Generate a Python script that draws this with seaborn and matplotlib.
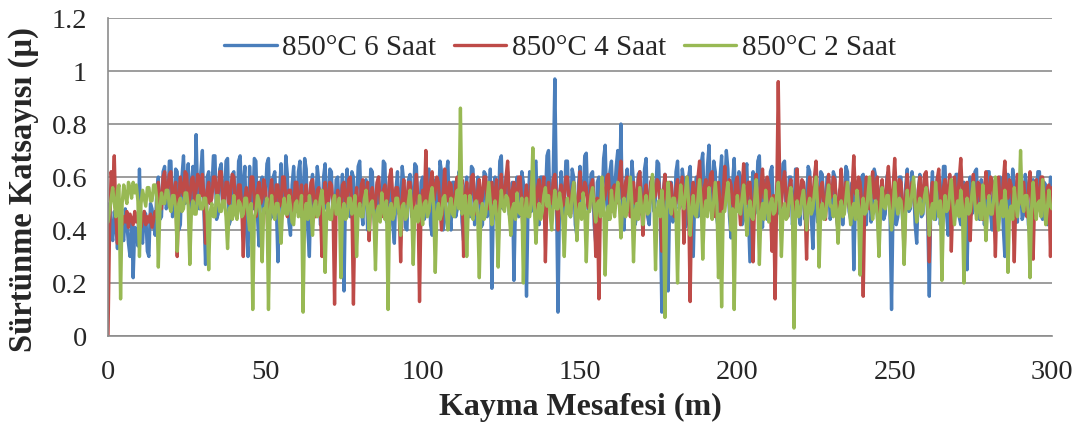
import numpy as np
import pandas as pd
import matplotlib
matplotlib.use("Agg")
import matplotlib.pyplot as plt
import seaborn as sns

# friction coefficient, two values per metre (0 .. 300 m)
mu_6h = [0.45, 0.50, 0.40, 0.36, 0.47, 0.42, 0.33, 0.45, 0.44, 0.38, 0.36, 0.48, 0.42, 0.35, 0.30, 0.44, 0.22, 0.41, 0.40, 0.34,
         0.63, 0.38, 0.35, 0.47, 0.46, 0.32, 0.30, 0.50, 0.48, 0.42, 0.38, 0.55, 0.60, 0.44, 0.45, 0.62, 0.64, 0.48, 0.50, 0.66,
         0.66, 0.45, 0.48, 0.63, 0.62, 0.40, 0.42, 0.60, 0.68, 0.50, 0.52, 0.65, 0.35, 0.58, 0.64, 0.47, 0.76, 0.52, 0.48, 0.62,
         0.70, 0.46, 0.27, 0.60, 0.62, 0.50, 0.55, 0.68, 0.68, 0.44, 0.46, 0.63, 0.65, 0.49, 0.50, 0.66, 0.67, 0.42, 0.44, 0.61,
         0.62, 0.48, 0.45, 0.66, 0.68, 0.52, 0.56, 0.64, 0.40, 0.30, 0.64, 0.50, 0.48, 0.67, 0.66, 0.45, 0.34, 0.58, 0.60, 0.46,
         0.52, 0.65, 0.67, 0.44, 0.45, 0.60, 0.62, 0.49, 0.28, 0.55, 0.65, 0.47, 0.50, 0.68, 0.61, 0.43, 0.38, 0.57, 0.64, 0.50,
         0.47, 0.62, 0.66, 0.45, 0.52, 0.67, 0.63, 0.40, 0.30, 0.56, 0.61, 0.46, 0.48, 0.64, 0.58, 0.42, 0.44, 0.60, 0.65, 0.48,
         0.50, 0.63, 0.62, 0.44, 0.42, 0.59, 0.60, 0.47, 0.49, 0.61, 0.17, 0.55, 0.63, 0.46, 0.45, 0.62, 0.60, 0.41, 0.50, 0.64,
         0.66, 0.48, 0.42, 0.58, 0.59, 0.40, 0.46, 0.63, 0.62, 0.45, 0.38, 0.57, 0.60, 0.47, 0.48, 0.66, 0.65, 0.43, 0.44, 0.60,
         0.57, 0.42, 0.35, 0.55, 0.62, 0.46, 0.47, 0.64, 0.58, 0.41, 0.40, 0.59, 0.61, 0.45, 0.50, 0.65, 0.64, 0.48, 0.43, 0.58,
         0.60, 0.44, 0.46, 0.62, 0.63, 0.42, 0.38, 0.57, 0.59, 0.46, 0.49, 0.66, 0.62, 0.40, 0.44, 0.61, 0.66, 0.47, 0.40, 0.58,
         0.58, 0.45, 0.48, 0.62, 0.61, 0.43, 0.36, 0.55, 0.60, 0.47, 0.45, 0.64, 0.63, 0.42, 0.50, 0.60, 0.57, 0.41, 0.42, 0.62,
         0.61, 0.45, 0.47, 0.63, 0.18, 0.52, 0.60, 0.44, 0.45, 0.66, 0.68, 0.48, 0.50, 0.60, 0.62, 0.46, 0.44, 0.58, 0.21, 0.50,
         0.60, 0.45, 0.46, 0.62, 0.58, 0.42, 0.15, 0.50, 0.62, 0.47, 0.48, 0.65, 0.66, 0.44, 0.42, 0.60, 0.60, 0.46, 0.52, 0.68,
         0.70, 0.48, 0.46, 0.62, 0.97, 0.55, 0.09, 0.50, 0.62, 0.45, 0.50, 0.66, 0.66, 0.47, 0.45, 0.63, 0.60, 0.42, 0.38, 0.57,
         0.64, 0.46, 0.52, 0.68, 0.69, 0.48, 0.47, 0.61, 0.62, 0.42, 0.35, 0.58, 0.60, 0.45, 0.50, 0.67, 0.72, 0.50, 0.44, 0.62,
         0.66, 0.48, 0.55, 0.64, 0.70, 0.52, 0.80, 0.45, 0.40, 0.58, 0.63, 0.47, 0.52, 0.66, 0.58, 0.42, 0.45, 0.61, 0.62, 0.46,
         0.48, 0.63, 0.67, 0.45, 0.42, 0.58, 0.60, 0.47, 0.52, 0.66, 0.65, 0.48, 0.09, 0.55, 0.61, 0.44, 0.17, 0.52, 0.58, 0.43,
         0.46, 0.62, 0.66, 0.48, 0.50, 0.63, 0.58, 0.41, 0.43, 0.60, 0.64, 0.47, 0.30, 0.55, 0.60, 0.45, 0.48, 0.65, 0.69, 0.50,
         0.46, 0.64, 0.72, 0.50, 0.52, 0.66, 0.62, 0.44, 0.40, 0.60, 0.68, 0.49, 0.55, 0.70, 0.63, 0.45, 0.37, 0.58, 0.67, 0.48,
         0.50, 0.62, 0.60, 0.42, 0.44, 0.61, 0.65, 0.47, 0.28, 0.55, 0.62, 0.46, 0.49, 0.66, 0.68, 0.48, 0.41, 0.57, 0.59, 0.44,
         0.47, 0.62, 0.64, 0.45, 0.36, 0.55, 0.61, 0.46, 0.52, 0.65, 0.66, 0.47, 0.45, 0.60, 0.60, 0.42, 0.48, 0.63, 0.63, 0.46,
         0.42, 0.57, 0.58, 0.44, 0.50, 0.64, 0.62, 0.45, 0.33, 0.52, 0.57, 0.43, 0.45, 0.62, 0.61, 0.46, 0.47, 0.60, 0.59, 0.44,
         0.48, 0.62, 0.60, 0.45, 0.40, 0.55, 0.56, 0.42, 0.52, 0.64, 0.62, 0.47, 0.44, 0.58, 0.25, 0.50, 0.58, 0.44, 0.47, 0.60,
         0.61, 0.46, 0.42, 0.58, 0.57, 0.43, 0.50, 0.63, 0.60, 0.45, 0.38, 0.55, 0.58, 0.44, 0.46, 0.60, 0.62, 0.47, 0.10, 0.50,
         0.55, 0.42, 0.45, 0.60, 0.60, 0.44, 0.40, 0.57, 0.63, 0.47, 0.48, 0.62, 0.57, 0.42, 0.35, 0.55, 0.61, 0.45, 0.46, 0.60,
         0.58, 0.44, 0.15, 0.52, 0.62, 0.47, 0.44, 0.60, 0.59, 0.42, 0.50, 0.64, 0.64, 0.46, 0.38, 0.56, 0.57, 0.43, 0.47, 0.61,
         0.61, 0.45, 0.42, 0.58, 0.58, 0.44, 0.25, 0.52, 0.60, 0.46, 0.48, 0.62, 0.63, 0.45, 0.44, 0.59, 0.56, 0.42, 0.50, 0.62,
         0.62, 0.46, 0.40, 0.57, 0.59, 0.44, 0.46, 0.60, 0.57, 0.41, 0.30, 0.52, 0.61, 0.45, 0.48, 0.63, 0.58, 0.43, 0.43, 0.60,
         0.60, 0.44, 0.46, 0.61, 0.56, 0.42, 0.38, 0.55, 0.59, 0.45, 0.50, 0.62, 0.62, 0.46, 0.44, 0.58, 0.57, 0.42, 0.48, 0.60,
         0.55]

mu_4h = [0.00, 0.40, 0.62, 0.55, 0.68, 0.45, 0.35, 0.44, 0.47, 0.42, 0.45, 0.43, 0.47, 0.41, 0.46, 0.44, 0.42, 0.47, 0.43, 0.45,
         0.46, 0.41, 0.44, 0.47, 0.42, 0.45, 0.43, 0.46, 0.41, 0.44, 0.47, 0.45, 0.58, 0.50, 0.48, 0.60, 0.62, 0.52, 0.55, 0.61,
         0.62, 0.50, 0.53, 0.58, 0.30, 0.52, 0.60, 0.55, 0.53, 0.62, 0.61, 0.50, 0.52, 0.59, 0.60, 0.51, 0.55, 0.61, 0.59, 0.53,
         0.61, 0.52, 0.35, 0.55, 0.58, 0.50, 0.52, 0.60, 0.60, 0.54, 0.54, 0.62, 0.62, 0.51, 0.49, 0.58, 0.58, 0.50, 0.55, 0.61,
         0.60, 0.50, 0.47, 0.57, 0.57, 0.49, 0.30, 0.52, 0.56, 0.48, 0.50, 0.60, 0.60, 0.52, 0.45, 0.55, 0.58, 0.50, 0.52, 0.59,
         0.56, 0.48, 0.32, 0.54, 0.59, 0.50, 0.48, 0.57, 0.57, 0.49, 0.50, 0.60, 0.60, 0.52, 0.45, 0.55, 0.55, 0.48, 0.47, 0.58,
         0.58, 0.50, 0.52, 0.57, 0.38, 0.52, 0.57, 0.49, 0.49, 0.58, 0.59, 0.50, 0.45, 0.55, 0.56, 0.48, 0.30, 0.52, 0.58, 0.50,
         0.51, 0.58, 0.57, 0.49, 0.12, 0.50, 0.55, 0.48, 0.47, 0.57, 0.58, 0.50, 0.52, 0.59, 0.60, 0.49, 0.12, 0.50, 0.56, 0.48,
         0.46, 0.57, 0.59, 0.50, 0.53, 0.58, 0.36, 0.52, 0.56, 0.48, 0.49, 0.58, 0.60, 0.51, 0.45, 0.55, 0.57, 0.49, 0.52, 0.60,
         0.63, 0.52, 0.48, 0.56, 0.56, 0.49, 0.28, 0.52, 0.59, 0.50, 0.50, 0.58, 0.58, 0.48, 0.42, 0.55, 0.61, 0.52, 0.13, 0.50,
         0.55, 0.48, 0.70, 0.52, 0.47, 0.58, 0.62, 0.51, 0.55, 0.60, 0.58, 0.49, 0.40, 0.54, 0.63, 0.52, 0.51, 0.58, 0.57, 0.48,
         0.48, 0.57, 0.60, 0.50, 0.54, 0.59, 0.30, 0.52, 0.58, 0.49, 0.50, 0.60, 0.61, 0.52, 0.46, 0.55, 0.59, 0.50, 0.53, 0.60,
         0.60, 0.51, 0.48, 0.57, 0.58, 0.50, 0.54, 0.59, 0.35, 0.52, 0.61, 0.50, 0.52, 0.60, 0.66, 0.53, 0.45, 0.55, 0.58, 0.49,
         0.53, 0.60, 0.60, 0.50, 0.35, 0.52, 0.57, 0.49, 0.50, 0.58, 0.62, 0.52, 0.47, 0.56, 0.59, 0.50, 0.54, 0.60, 0.28, 0.52,
         0.58, 0.50, 0.50, 0.59, 0.61, 0.52, 0.40, 0.54, 0.57, 0.49, 0.52, 0.60, 0.60, 0.51, 0.46, 0.55, 0.58, 0.50, 0.41, 0.53,
         0.62, 0.52, 0.51, 0.58, 0.56, 0.49, 0.48, 0.57, 0.59, 0.50, 0.30, 0.52, 0.14, 0.50, 0.58, 0.51, 0.53, 0.60, 0.61, 0.50,
         0.47, 0.56, 0.57, 0.50, 0.52, 0.60, 0.66, 0.53, 0.50, 0.58, 0.60, 0.51, 0.45, 0.55, 0.58, 0.50, 0.52, 0.59, 0.62, 0.51,
         0.38, 0.53, 0.57, 0.50, 0.49, 0.58, 0.60, 0.52, 0.53, 0.59, 0.58, 0.50, 0.32, 0.54, 0.61, 0.52, 0.50, 0.58, 0.57, 0.49,
         0.45, 0.56, 0.59, 0.50, 0.55, 0.60, 0.35, 0.52, 0.60, 0.51, 0.13, 0.52, 0.58, 0.50, 0.52, 0.60, 0.66, 0.53, 0.47, 0.56,
         0.59, 0.50, 0.55, 0.61, 0.62, 0.52, 0.45, 0.55, 0.58, 0.50, 0.30, 0.54, 0.64, 0.53, 0.52, 0.59, 0.57, 0.50, 0.48, 0.58,
         0.60, 0.51, 0.42, 0.55, 0.65, 0.53, 0.50, 0.58, 0.58, 0.49, 0.28, 0.52, 0.61, 0.50, 0.47, 0.57, 0.63, 0.52, 0.53, 0.60,
         0.57, 0.49, 0.32, 0.53, 0.14, 0.52, 0.96, 0.55, 0.49, 0.58, 0.62, 0.52, 0.45, 0.56, 0.59, 0.50, 0.27, 0.53, 0.63, 0.51,
         0.50, 0.59, 0.58, 0.50, 0.29, 0.53, 0.60, 0.51, 0.52, 0.60, 0.66, 0.53, 0.48, 0.56, 0.58, 0.50, 0.44, 0.55, 0.61, 0.52,
         0.53, 0.60, 0.59, 0.50, 0.38, 0.54, 0.63, 0.52, 0.50, 0.58, 0.57, 0.49, 0.46, 0.56, 0.68, 0.54, 0.52, 0.60, 0.58, 0.50,
         0.15, 0.52, 0.60, 0.50, 0.48, 0.57, 0.62, 0.52, 0.55, 0.60, 0.35, 0.53, 0.59, 0.50, 0.50, 0.58, 0.64, 0.53, 0.47, 0.56,
         0.67, 0.54, 0.52, 0.59, 0.58, 0.50, 0.30, 0.53, 0.61, 0.51, 0.50, 0.58, 0.57, 0.49, 0.45, 0.55, 0.60, 0.52, 0.53, 0.61,
         0.62, 0.52, 0.28, 0.53, 0.58, 0.50, 0.50, 0.59, 0.63, 0.52, 0.47, 0.56, 0.59, 0.50, 0.55, 0.61, 0.32, 0.52, 0.60, 0.50,
         0.52, 0.59, 0.67, 0.54, 0.48, 0.57, 0.58, 0.50, 0.36, 0.53, 0.61, 0.52, 0.50, 0.58, 0.57, 0.49, 0.44, 0.55, 0.62, 0.52,
         0.53, 0.60, 0.58, 0.50, 0.30, 0.53, 0.60, 0.51, 0.49, 0.58, 0.66, 0.53, 0.52, 0.59, 0.57, 0.50, 0.28, 0.52, 0.61, 0.51,
         0.50, 0.58, 0.58, 0.50, 0.45, 0.55, 0.62, 0.52, 0.29, 0.53, 0.59, 0.50, 0.52, 0.60, 0.60, 0.51, 0.47, 0.56, 0.57, 0.30,
         0.56]

mu_2h = [0.43, 0.47, 0.52, 0.56, 0.50, 0.45, 0.55, 0.57, 0.14, 0.50, 0.57, 0.53, 0.50, 0.58, 0.56, 0.52, 0.58, 0.54, 0.57, 0.51,
         0.30, 0.50, 0.55, 0.52, 0.49, 0.56, 0.56, 0.51, 0.51, 0.57, 0.57, 0.52, 0.26, 0.48, 0.54, 0.50, 0.50, 0.55, 0.55, 0.49,
         0.47, 0.53, 0.53, 0.48, 0.32, 0.50, 0.52, 0.47, 0.48, 0.54, 0.54, 0.49, 0.27, 0.47, 0.51, 0.46, 0.46, 0.53, 0.53, 0.48,
         0.48, 0.52, 0.52, 0.46, 0.25, 0.47, 0.50, 0.45, 0.45, 0.53, 0.53, 0.47, 0.47, 0.51, 0.51, 0.45, 0.33, 0.48, 0.49, 0.44,
         0.53, 0.46, 0.44, 0.51, 0.50, 0.45, 0.46, 0.52, 0.52, 0.46, 0.40, 0.50, 0.10, 0.45, 0.47, 0.53, 0.51, 0.45, 0.28, 0.48,
         0.48, 0.52, 0.10, 0.46, 0.53, 0.47, 0.44, 0.50, 0.50, 0.44, 0.35, 0.48, 0.52, 0.46, 0.46, 0.53, 0.49, 0.43, 0.42, 0.50,
         0.51, 0.45, 0.47, 0.53, 0.09, 0.46, 0.50, 0.44, 0.53, 0.47, 0.38, 0.49, 0.51, 0.45, 0.46, 0.52, 0.55, 0.48, 0.24, 0.46,
         0.50, 0.44, 0.44, 0.51, 0.53, 0.46, 0.46, 0.52, 0.22, 0.47, 0.50, 0.44, 0.45, 0.52, 0.52, 0.46, 0.48, 0.53, 0.30, 0.47,
         0.50, 0.45, 0.45, 0.52, 0.55, 0.48, 0.40, 0.50, 0.51, 0.45, 0.25, 0.47, 0.49, 0.43, 0.54, 0.48, 0.44, 0.51, 0.10, 0.48,
         0.50, 0.44, 0.46, 0.52, 0.52, 0.46, 0.38, 0.49, 0.50, 0.44, 0.45, 0.51, 0.55, 0.48, 0.27, 0.47, 0.49, 0.43, 0.53, 0.47,
         0.42, 0.50, 0.51, 0.45, 0.47, 0.53, 0.56, 0.49, 0.24, 0.46, 0.50, 0.44, 0.46, 0.52, 0.53, 0.47, 0.40, 0.49, 0.52, 0.46,
         0.45, 0.51, 0.55, 0.48, 0.86, 0.46, 0.49, 0.53, 0.30, 0.48, 0.53, 0.46, 0.44, 0.50, 0.51, 0.45, 0.22, 0.47, 0.50, 0.44,
         0.46, 0.52, 0.58, 0.50, 0.42, 0.48, 0.51, 0.45, 0.26, 0.48, 0.55, 0.49, 0.47, 0.53, 0.52, 0.46, 0.38, 0.48, 0.50, 0.44,
         0.54, 0.47, 0.46, 0.52, 0.20, 0.47, 0.52, 0.45, 0.45, 0.51, 0.71, 0.48, 0.35, 0.47, 0.50, 0.44, 0.47, 0.53, 0.56, 0.49,
         0.53, 0.46, 0.40, 0.49, 0.55, 0.48, 0.48, 0.54, 0.50, 0.44, 0.30, 0.47, 0.52, 0.46, 0.45, 0.53, 0.58, 0.50, 0.36, 0.47,
         0.50, 0.44, 0.54, 0.48, 0.28, 0.47, 0.47, 0.53, 0.56, 0.49, 0.43, 0.50, 0.51, 0.45, 0.60, 0.50, 0.23, 0.46, 0.49, 0.44,
         0.55, 0.48, 0.45, 0.52, 0.58, 0.50, 0.37, 0.48, 0.52, 0.45, 0.47, 0.54, 0.60, 0.50, 0.28, 0.47, 0.50, 0.44, 0.56, 0.49,
         0.42, 0.49, 0.53, 0.46, 0.47, 0.54, 0.61, 0.50, 0.25, 0.47, 0.51, 0.45, 0.55, 0.48, 0.07, 0.46, 0.58, 0.50, 0.46, 0.52,
         0.52, 0.46, 0.20, 0.48, 0.57, 0.50, 0.48, 0.54, 0.60, 0.51, 0.38, 0.47, 0.53, 0.46, 0.45, 0.52, 0.59, 0.50, 0.29, 0.47,
         0.51, 0.45, 0.56, 0.49, 0.44, 0.51, 0.58, 0.50, 0.22, 0.46, 0.11, 0.47, 0.47, 0.53, 0.58, 0.49, 0.40, 0.48, 0.10, 0.46,
         0.53, 0.47, 0.46, 0.52, 0.57, 0.49, 0.38, 0.47, 0.51, 0.45, 0.44, 0.51, 0.59, 0.50, 0.27, 0.46, 0.50, 0.44, 0.55, 0.48,
         0.43, 0.50, 0.52, 0.46, 0.47, 0.53, 0.58, 0.50, 0.30, 0.47, 0.50, 0.44, 0.45, 0.52, 0.56, 0.49, 0.03, 0.46, 0.51, 0.45,
         0.46, 0.52, 0.55, 0.48, 0.40, 0.49, 0.52, 0.46, 0.48, 0.54, 0.60, 0.50, 0.26, 0.47, 0.50, 0.44, 0.45, 0.52, 0.57, 0.49,
         0.49, 0.45, 0.53, 0.47, 0.35, 0.48, 0.51, 0.45, 0.46, 0.52, 0.58, 0.50, 0.42, 0.48, 0.50, 0.44, 0.55, 0.49, 0.23, 0.47,
         0.52, 0.46, 0.47, 0.53, 0.60, 0.50, 0.44, 0.49, 0.51, 0.45, 0.30, 0.47, 0.56, 0.49, 0.48, 0.53, 0.53, 0.46, 0.40, 0.48,
         0.58, 0.50, 0.46, 0.52, 0.51, 0.45, 0.27, 0.47, 0.55, 0.48, 0.49, 0.54, 0.60, 0.50, 0.43, 0.49, 0.52, 0.46, 0.47, 0.53,
         0.56, 0.49, 0.38, 0.47, 0.50, 0.44, 0.58, 0.50, 0.45, 0.51, 0.21, 0.46, 0.53, 0.47, 0.48, 0.54, 0.59, 0.50, 0.42, 0.48,
         0.51, 0.45, 0.55, 0.49, 0.20, 0.47, 0.52, 0.46, 0.47, 0.53, 0.58, 0.50, 0.44, 0.49, 0.50, 0.44, 0.57, 0.49, 0.36, 0.47,
         0.53, 0.46, 0.46, 0.52, 0.60, 0.50, 0.40, 0.48, 0.51, 0.45, 0.55, 0.49, 0.24, 0.47, 0.49, 0.44, 0.56, 0.50, 0.45, 0.51,
         0.70, 0.50, 0.47, 0.53, 0.53, 0.46, 0.22, 0.48, 0.58, 0.50, 0.44, 0.50, 0.51, 0.45, 0.59, 0.50, 0.42, 0.48, 0.55, 0.49,
         0.48]

labels = ["850°C 6 Saat", "850°C 4 Saat", "850°C 2 Saat"]
colors = ["#4A7EBB", "#BE4B48", "#98B954"]

df = pd.concat([
    pd.DataFrame({"mesafe": np.linspace(0, 300, len(vals)), "mu": vals, "seri": lab})
    for vals, lab in zip([mu_6h, mu_4h, mu_2h], labels)
])

sns.set_style("white")
plt.rcParams["font.family"] = ["Liberation Serif", "DejaVu Serif"]

fig = plt.figure(figsize=(10.81, 4.37), dpi=100)
ax = fig.add_axes([0.0999, 0.2311, 0.8733, 0.7277])

sns.lineplot(data=df, x="mesafe", y="mu", hue="seri", hue_order=labels,
             palette=colors, estimator=None, linewidth=2.4, ax=ax)

ax.set_xlim(0, 300)
ax.set_ylim(0, 1.2)
ax.set_xticks([0, 50, 100, 150, 200, 250, 300])
ax.set_yticks([0, 0.2, 0.4, 0.6, 0.8, 1.0, 1.2])
ax.yaxis.set_major_formatter(matplotlib.ticker.FuncFormatter(lambda v, p: f"{v:g}"))
ax.grid(axis="y", color="#8c8c8c", linewidth=1.2)
ax.set_axisbelow(True)
for s in ["top", "right"]:
    ax.spines[s].set_visible(False)
for s in ["left", "bottom"]:
    ax.spines[s].set_color("#8c8c8c")
    ax.spines[s].set_linewidth(1.2)
ax.tick_params(axis="both", direction="out", length=7, width=1.2,
               color="#8c8c8c", labelsize=20.5, pad=8)
ax.tick_params(axis="x", pad=10)

ax.set_xlabel("Kayma Mesafesi (m)", fontsize=23, fontweight="bold", labelpad=6)
ax.set_ylabel("Sürtünme Katsayısı (µ)", fontsize=23.5, fontweight="bold", labelpad=9)
ax.yaxis.label.set_y(0.46)

ax.legend(loc="center", bbox_to_anchor=(0.479, 0.906), ncol=3, frameon=False,
          fontsize=21, handlelength=1.8, columnspacing=0.6, handletextpad=0.2)
for h in ax.get_legend().get_lines():
    h.set_linewidth(2.4)

fig.savefig("out.png", dpi=100)
